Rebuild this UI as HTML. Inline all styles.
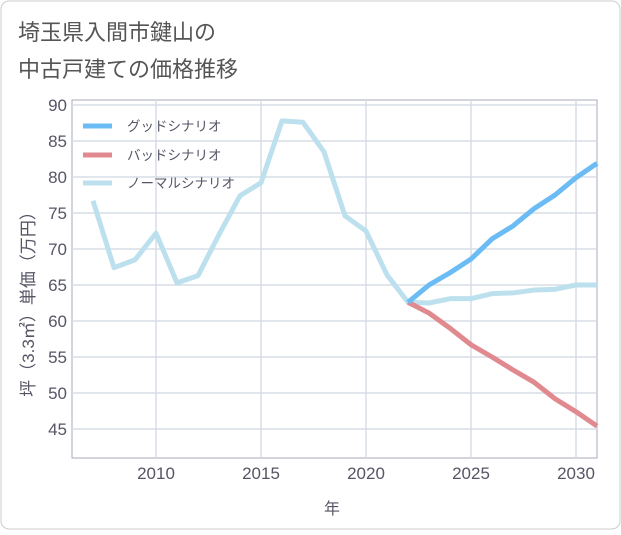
<!DOCTYPE html>
<html><head><meta charset="utf-8"><style>
body{margin:0;background:#fff;}
svg text{font-family:"Liberation Sans","Noto Sans CJK JP",sans-serif;}
</style></head><body>
<svg width="621" height="530" id="c">
<rect x="1" y="1" width="619" height="528" rx="8" fill="#fff" stroke="#ccc"/>
<text x="18" y="40" font-size="22" fill="#555">埼玉県入間市鍵山の</text>
<text x="18" y="77" font-size="22" fill="#555">中古戸建ての価格推移</text>
<rect x="72" y="100" width="525" height="358" fill="#fff" stroke="#aab"/>
<g id="grid"></g><g id="series"></g><g id="axes"></g>
<text x="332" y="514" font-size="16" fill="#556" text-anchor="middle">年</text>
<text transform="translate(34,300) rotate(-90)" font-size="17" fill="#556" text-anchor="middle">坪（3.3㎡）単価（万円）</text>
<g>
<line x1="83" y1="126" x2="112" y2="126" stroke="#6bbcf5" stroke-width="5"/>
<text x="127" y="131" font-size="13.5" fill="#556">グッドシナリオ</text>
<line x1="83" y1="155" x2="112" y2="155" stroke="#e08a90" stroke-width="5"/>
<text x="127" y="160" font-size="13.5" fill="#556">バッドシナリオ</text>
<line x1="83" y1="183" x2="112" y2="183" stroke="#bde0ee" stroke-width="5"/>
<text x="127" y="188" font-size="13.5" fill="#556">ノーマルシナリオ</text>
</g>
</svg>
<script>
const yTicks=[45,50,55,60,65,70,75,80,85,90];
const xTicks=[2010,2015,2020,2025,2030];
const normalYears=[2007,2008,2009,2010,2011,2012,2013,2014,2015,2016,2017,2018,2019,2020,2021,2022,2023,2024,2025,2026,2027,2028,2029,2030,2031];
const normalVals=[76.7,67.4,68.5,72.2,65.3,66.3,72,77.4,79.2,87.8,87.6,83.5,74.6,72.5,66.4,62.6,62.5,63.1,63.1,63.8,63.9,64.3,64.4,65,65];
const futureYears=[2022,2023,2024,2025,2026,2027,2028,2029,2030,2031];
const goodVals=[62.6,65,66.7,68.6,71.4,73.2,75.6,77.5,79.9,81.9];
const badVals=[62.6,61.1,59,56.7,55,53.2,51.5,49.2,47.4,45.4];
const X=y=>72+(y-2006)*21, Y=v=>105+(90-v)*7.2;
const NS='http://www.w3.org/2000/svg';
function mk(t,a,p){const e=document.createElementNS(NS,t);for(const k in a)e.setAttribute(k,a[k]);p.appendChild(e);return e;}
const g=document.getElementById('grid'),ax=document.getElementById('axes'),s=document.getElementById('series');
yTicks.forEach(v=>{const l=mk('line',{x1:72,x2:597,y1:Y(v),y2:Y(v),stroke:'#d5dde6','stroke-width':1.5},g);

const t=mk('text',{x:67,y:Y(v)+6,'font-size':17,fill:'#556','text-anchor':'end'},ax);t.textContent=v;
});
xTicks.forEach(v=>{const l=mk('line',{x1:X(v),x2:X(v),y1:100,y2:458,stroke:'#d5dde6','stroke-width':1.5},g);

const t=mk('text',{x:X(v),y:479,'font-size':17,fill:'#556','text-anchor':'middle'},ax);t.textContent=v;
});
function line(xs,vs,c,n){const p=mk('polyline',{points:xs.map((x,i)=>X(x)+','+Y(vs[i])).join(' '),fill:'none',stroke:c,'stroke-width':5,'stroke-linejoin':'round'},s);
}
line(normalYears,normalVals,'#bde0ee','normal-scenario-line');
line(futureYears,badVals,'#e08a90','bad-scenario-line');
line(futureYears,goodVals,'#6bbcf5','good-scenario-line');
</script>
</body></html>
